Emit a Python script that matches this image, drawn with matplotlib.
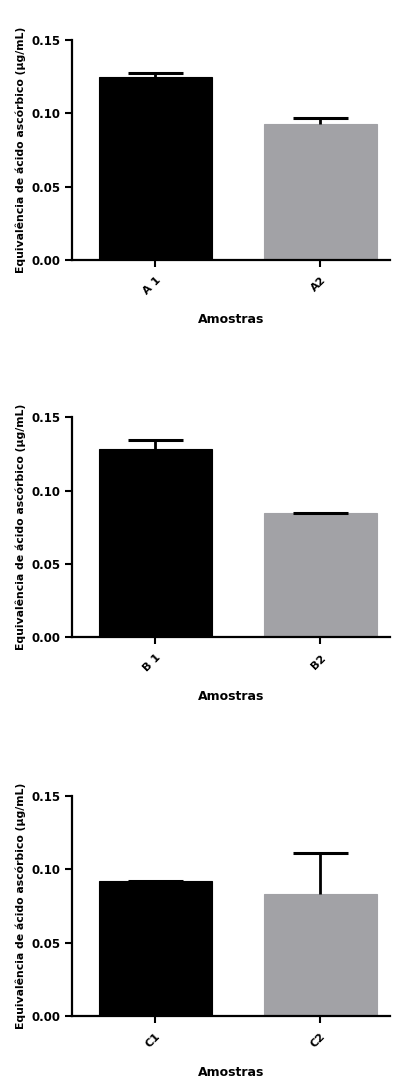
import matplotlib
matplotlib.use('Agg')
import matplotlib.pyplot as plt
import numpy as np

plt.rcParams['font.family'] = ['DejaVu Sans']
plt.rcParams['font.weight'] = 'bold'

# data
labels_a = ['A 1', 'A2']
means_a = [0.1246, 0.0927]
sd_a = [0.0031, 0.0039]

labels_b = ['B 1', 'B2']
means_b = [0.1286, 0.0845]
sd_b = [0.0059, 0.0004]

labels_c = ['C1', 'C2']
means_c = [0.0918, 0.0831]
sd_c = [0.0003, 0.0282]

bar_colors = ['#000000', '#a2a2a6']
ylab = 'Equivalência de ácido ascórbico (µg/mL)'
xlab = 'Amostras'

fig = plt.figure(figsize=(3.93, 10.81), dpi=100)

panels = [(labels_a, means_a, sd_a, 0.7595),
          (labels_b, means_b, sd_b, 0.4105),
          (labels_c, means_c, sd_c, 0.0601)]

for labels, means, sd, bottom in panels:
    ax = fig.add_axes([0.183, bottom, 0.809, 220 / 1081])
    x = np.arange(len(labels))
    means = np.array(means)
    sd = np.array(sd)
    ax.bar(x, means, width=0.685, color=bar_colors, edgecolor=bar_colors, linewidth=0.8, zorder=2)
    # upper error bar only (GraphPad style)
    ax.vlines(x, means, means + sd, colors='black', linewidth=2, zorder=3, clip_on=False)
    ax.hlines(means + sd, x - 0.167, x + 0.167, colors='black', linewidth=2.2, zorder=3, clip_on=False)
    ax.set_xlim(-0.506, 1.421)
    ax.set_ylim(0, 0.15)
    ax.set_yticks([0, 0.05, 0.10, 0.15])
    ax.set_yticklabels(['0.00', '0.05', '0.10', '0.15'], fontsize=8.5, fontweight='bold')
    ax.set_xticks(x)
    ax.set_xticklabels(labels, rotation=45, ha='right', rotation_mode='anchor',
                       fontsize=8, fontweight='bold')
    for s in ['top', 'right']:
        ax.spines[s].set_visible(False)
    for s in ['left', 'bottom']:
        ax.spines[s].set_linewidth(1.6)
    ax.tick_params(axis='y', width=1.5, length=5, pad=3)
    ax.tick_params(axis='x', width=1.5, length=5, pad=6)
    ax.set_ylabel(ylab, fontsize=7.8, fontweight='bold', labelpad=4)
    ax.set_xlabel(xlab, fontsize=9, fontweight='bold', labelpad=12)

fig.savefig('out.png', dpi=100)
